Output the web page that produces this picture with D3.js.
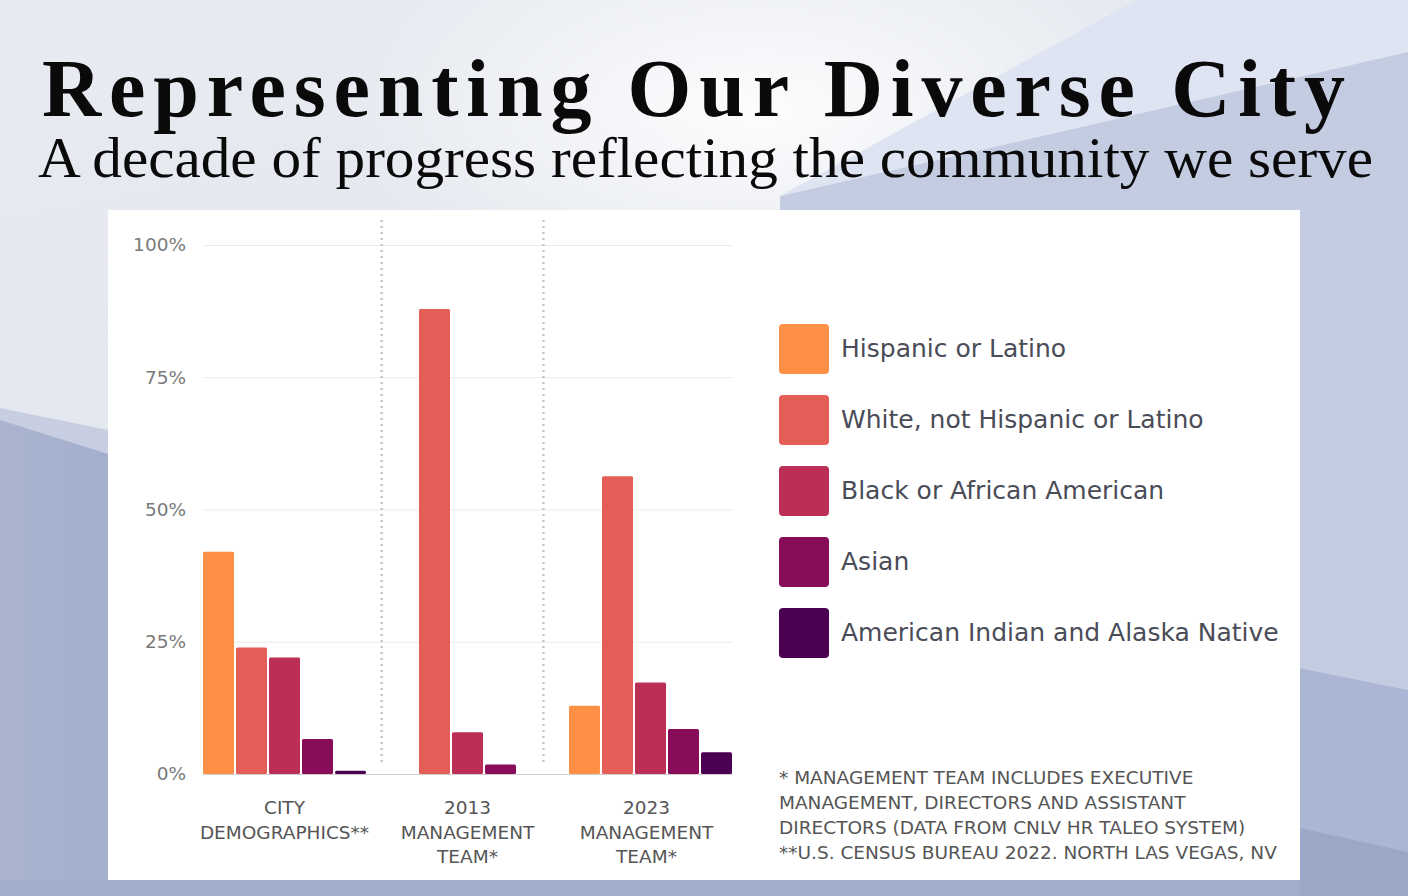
<!DOCTYPE html>
<html>
<head>
<meta charset="utf-8">
<script src="https://cdn.jsdelivr.net/npm/d3@7"></script>
<style>
  html, body { margin: 0; padding: 0; background: #e6e9f0; }
  svg { display: block; }
</style>
</head>
<body>
<svg id="chart" width="1408" height="896"></svg>
<script>
// ---------- DATA ----------
const groups = ["CITY DEMOGRAPHICS**", "2013 MANAGEMENT TEAM*", "2023 MANAGEMENT TEAM*"];
const groupLabelLines = [["CITY", "DEMOGRAPHICS**"], ["2013", "MANAGEMENT", "TEAM*"], ["2023", "MANAGEMENT", "TEAM*"]];
const series = ["Hispanic or Latino", "White, not Hispanic or Latino", "Black or African American", "Asian", "American Indian and Alaska Native"];
const seriesColors = ["#fd9045", "#e35e56", "#bb2e55", "#890c5b", "#4a0151"];
const hispanic = [42.0, 0, 12.9];
const white    = [23.9, 87.9, 56.3];
const black    = [22.0, 7.9, 17.3];
const asian    = [6.6, 1.8, 8.5];
const aian     = [0.6, 0, 4.1];
const yTicks = [0, 25, 50, 75, 100];
const footnotes = [
  "* MANAGEMENT TEAM INCLUDES EXECUTIVE",
  "MANAGEMENT, DIRECTORS AND ASSISTANT",
  "DIRECTORS (DATA FROM CNLV HR TALEO SYSTEM)",
  "**U.S. CENSUS BUREAU 2022. NORTH LAS VEGAS, NV"
];
const title = "Representing Our Diverse City";
const subtitle = "A decade of progress reflecting the community we serve";

const values = [hispanic, white, black, asian, aian];

// ---------- SVG ----------
const svg = d3.select("#chart");
const W = 1408, H = 896;

// background
const defs = svg.append("defs");
const bg = defs.append("linearGradient").attr("id", "bgGrad").attr("x1", 0).attr("y1", 0).attr("x2", 0.3).attr("y2", 1);
bg.append("stop").attr("offset", "0%").attr("stop-color", "#e8ebf1");
bg.append("stop").attr("offset", "100%").attr("stop-color", "#dfe3ec");
const glow = defs.append("radialGradient").attr("id", "glow").attr("cx", 0.5).attr("cy", 0.5).attr("r", 0.5);
glow.append("stop").attr("offset", "0%").attr("stop-color", "#ffffff").attr("stop-opacity", 0.9);
glow.append("stop").attr("offset", "100%").attr("stop-color", "#ffffff").attr("stop-opacity", 0);
const lowGrad = defs.append("linearGradient").attr("id", "lowGrad").attr("x1", 0).attr("y1", 0).attr("x2", 1).attr("y2", 0);
lowGrad.append("stop").attr("offset", "0%").attr("stop-color", "#aab4cf");
lowGrad.append("stop").attr("offset", "100%").attr("stop-color", "#a3afcd");

svg.append("rect").attr("width", W).attr("height", H).attr("fill", "url(#bgGrad)");
svg.append("ellipse").attr("cx", 760).attr("cy", 110).attr("rx", 420).attr("ry", 200).attr("fill", "url(#glow)");
// top-right light wedge
svg.append("polygon").attr("points", "1136,0 1408,0 1408,52 780,196").attr("fill", "#dfe4f2");
// right darker area
svg.append("polygon").attr("points", "1408,52 780,196 780,210 1408,210").attr("fill", "#c4cce2");
svg.append("polygon").attr("points", "1300,200 1408,200 1408,690 1300,668").attr("fill", "#c4cce2");
svg.append("polygon").attr("points", "1300,668 1408,690 1408,896 1300,896").attr("fill", "#aab6d4");
svg.append("polygon").attr("points", "1300,828 1408,852 1408,896 1300,896").attr("fill", "#9ba7c7");
// left lower area
svg.append("polygon").attr("points", "0,408 108,430 108,896 0,896").attr("fill", "#c8cee1");
svg.append("polygon").attr("points", "0,420 108,454 108,896 0,896").attr("fill", "url(#lowGrad)");
svg.append("rect").attr("x", 0).attr("y", 880).attr("width", 1300).attr("height", 16).attr("fill", "#a2adca");

// title
svg.append("text").attr("x", 42).attr("y", 116)
  .attr("font-family", "'Liberation Serif', 'DejaVu Serif', serif").attr("font-weight", 700)
  .attr("font-size", 82).attr("fill", "#0a0a0a")
  .attr("textLength", 1303).attr("lengthAdjust", "spacing")
  .text(title);
svg.append("text").attr("x", 38).attr("y", 177)
  .attr("font-family", "'Liberation Serif', 'DejaVu Serif', serif").attr("font-weight", 400)
  .attr("font-size", 56).attr("fill", "#0a0a0a")
  .attr("textLength", 1335).attr("lengthAdjust", "spacingAndGlyphs")
  .text(subtitle);

// panel
svg.append("rect").attr("x", 108).attr("y", 210).attr("width", 1192).attr("height", 670).attr("fill", "#ffffff");

const sans = "'DejaVu Sans', Verdana, sans-serif";

// scales
const y = d3.scaleLinear().domain([0, 100]).range([774, 245]);
const xg = d3.scaleBand().domain(groups).range([193, 742]).paddingInner(0);
const slot = 33, barW = 31;

// gridlines & y axis
const gAxis = svg.append("g").attr("transform", "translate(203,0)");
gAxis.call(d3.axisLeft(y).tickValues(yTicks).tickSize(-530).tickFormat(d => d + "%"))
  .call(g => g.select(".domain").remove())
  .call(g => g.selectAll(".tick line").attr("stroke", "#ebebeb").attr("stroke-width", 1.2))
  .call(g => g.selectAll(".tick text").attr("x", -17).attr("fill", "#7a7a7a")
        .attr("font-family", sans).attr("font-size", 18.5).attr("font-weight", 400));
gAxis.selectAll(".tick").filter(d => d === 0).select("line").attr("stroke", "#cfcfcf");

// dotted separators (between groups, in bar-slot units relative to middle group)
const sepSlots = [-2.6, 2.3];
const midC = xg(groups[1]) + xg.bandwidth() / 2;
svg.append("g").selectAll("line").data(sepSlots).join("line")
  .attr("x1", d => midC + d * slot).attr("x2", d => midC + d * slot)
  .attr("y1", 220).attr("y2", 765)
  .attr("stroke", "#c8c8c8").attr("stroke-width", 2.5).attr("stroke-dasharray", "2,4");

// bars
const barData = [];
groups.forEach((g, gi) => {
  const present = series.map((s, si) => ({ s, si, v: values[si][gi] })).filter(d => d.v > 0);
  const c = xg(g) + xg.bandwidth() / 2;
  const start = c - present.length * slot / 2 + (slot - barW) / 2;
  present.forEach((d, k) => barData.push({ g, gi, si: d.si, v: d.v, x: start + k * slot }));
});
svg.append("g").selectAll("rect").data(barData).join("rect")
  .attr("x", d => d.x).attr("width", barW)
  .attr("y", d => y(d.v)).attr("height", d => y(0) - y(d.v))
  .attr("rx", 1.5)
  .attr("fill", d => seriesColors[d.si]);

// x labels
const xl = svg.append("g");
groups.forEach((g, gi) => {
  const c = xg(g) + xg.bandwidth() / 2 - (gi === 2 ? 4 : 0);
  const t = xl.append("text").attr("text-anchor", "middle")
    .attr("font-family", sans).attr("font-size", 18.5).attr("fill", "#555")
    .attr("x", c).attr("y", 814);
  groupLabelLines[gi].forEach((ln, i) => {
    t.append("tspan").attr("x", c).attr("dy", i === 0 ? 0 : 24.5).text(ln);
  });
});

// legend
const leg = svg.append("g").attr("transform", "translate(779,324)");
const li = leg.selectAll("g").data(series).join("g").attr("transform", (d, i) => `translate(0,${i * 71})`);
li.append("rect").attr("width", 50).attr("height", 50).attr("rx", 4).attr("fill", (d, i) => seriesColors[i]);
li.append("text").attr("x", 62).attr("y", 33)
  .attr("font-family", sans).attr("font-size", 25).attr("fill", "#4a4c57").text(d => d);

// footnotes
svg.append("g").selectAll("text").data(footnotes).join("text")
  .attr("x", 779).attr("y", (d, i) => 784 + i * 25)
  .attr("font-family", sans).attr("font-size", 18.5).attr("fill", "#555")
  .text(d => d);
</script>
</body>
</html>
